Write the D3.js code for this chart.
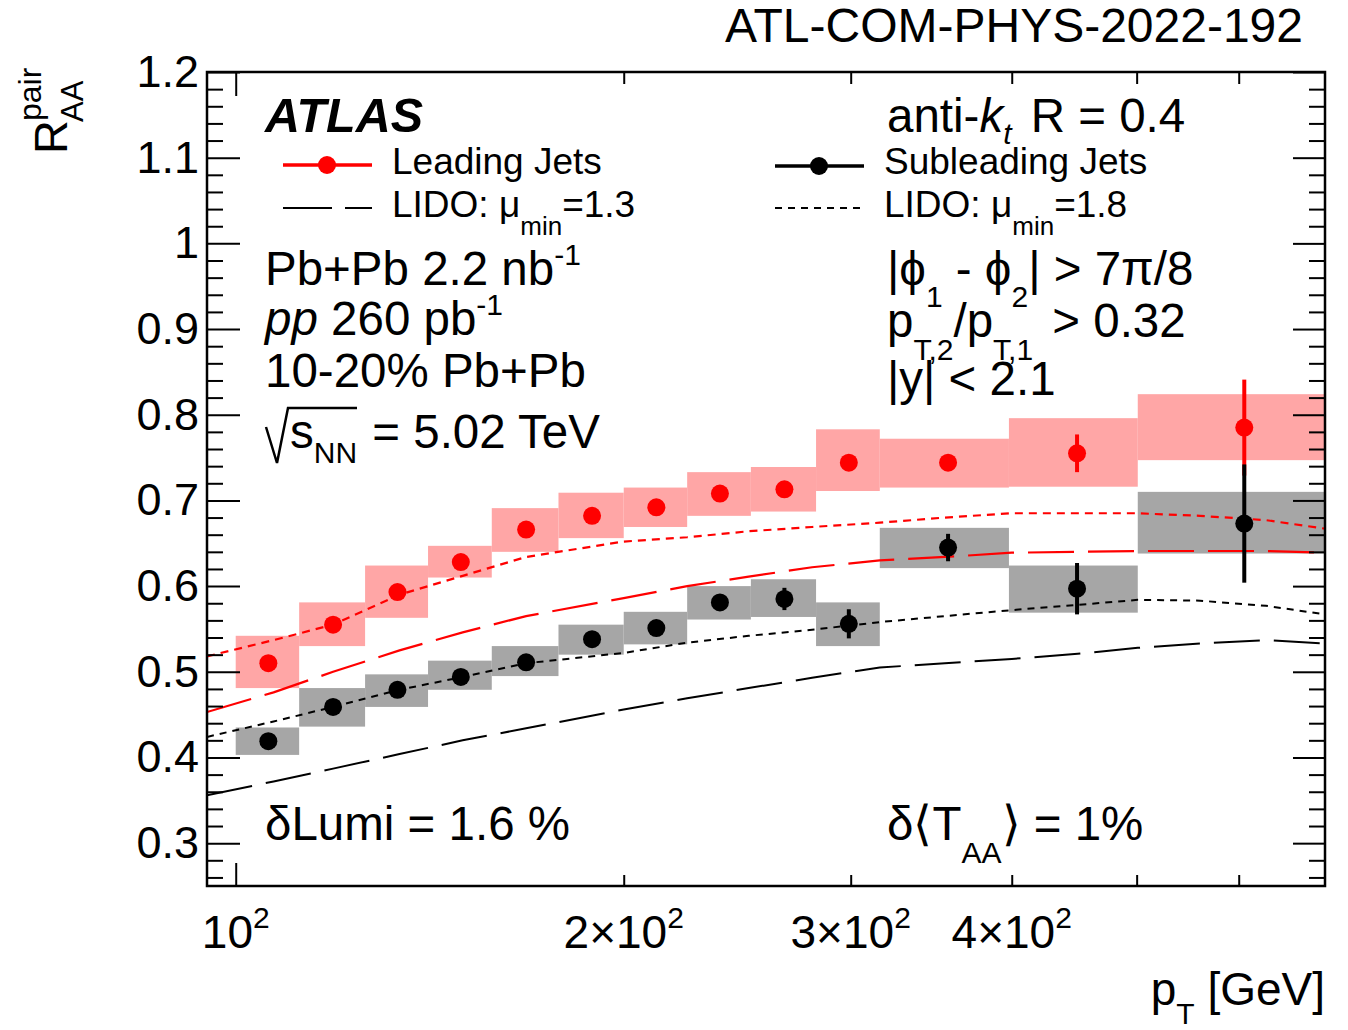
<!DOCTYPE html>
<html>
<head>
<meta charset="utf-8">
<script src="https://cdn.jsdelivr.net/npm/d3@7"></script>
<style>
  body { margin: 0; background: #fff; }
  svg { font-family: "Liberation Sans", Arial, sans-serif; }
</style>
</head>
<body>
<div id="chart"></div>
<script>
// bins in pT (GeV) and measured points
const binEdges = [100, 112, 126, 141, 158, 178, 200, 224, 251, 282, 316, 398, 501, 700];
const binCenters = [106, 119, 133.5, 149.5, 168, 189, 212, 237.5, 266.5, 299, 357, 449.5, 606];

// leading jets
const leadVal = [0.510, 0.555, 0.593, 0.628, 0.666, 0.682, 0.692, 0.708, 0.713, 0.744, 0.744, 0.755, 0.785];
const leadStat = [0.005, 0.005, 0.005, 0.005, 0.005, 0.005, 0.005, 0.005, 0.006, 0.008, 0.008, 0.022, 0.056];
const leadSysLo = [0.481, 0.530, 0.563, 0.610, 0.640, 0.656, 0.669, 0.682, 0.687, 0.711, 0.715, 0.716, 0.747];
const leadSysHi = [0.542, 0.581, 0.624, 0.647, 0.691, 0.709, 0.715, 0.733, 0.739, 0.783, 0.772, 0.796, 0.824];

// subleading jets
const subVal = [0.419, 0.459, 0.479, 0.494, 0.511, 0.538, 0.551, 0.581, 0.585, 0.556, 0.645, 0.597, 0.673];
const subStat = [0.005, 0.005, 0.005, 0.005, 0.005, 0.006, 0.007, 0.008, 0.013, 0.017, 0.016, 0.030, 0.069];
const subSysLo = [0.403, 0.436, 0.459, 0.479, 0.495, 0.520, 0.532, 0.561, 0.564, 0.530, 0.621, 0.569, 0.638];
const subSysHi = [0.435, 0.481, 0.497, 0.513, 0.530, 0.555, 0.570, 0.600, 0.608, 0.581, 0.668, 0.624, 0.710];

// LIDO curves
const lidoPt = [95, 107, 119, 134, 150, 168, 200, 224, 250, 280, 316, 355, 400, 450, 501, 560, 630, 700];
const lidoLead18 = [0.518, 0.537, 0.555, 0.590, 0.612, 0.634, 0.652, 0.657, 0.664, 0.669, 0.674, 0.680, 0.685, 0.685, 0.685, 0.682, 0.677, 0.667];
const lidoLead13 = [0.453, 0.476, 0.500, 0.525, 0.546, 0.565, 0.586, 0.600, 0.611, 0.622, 0.630, 0.634, 0.639, 0.640, 0.641, 0.641, 0.641, 0.639];
const lidoSub18 = [0.424, 0.442, 0.459, 0.479, 0.494, 0.510, 0.522, 0.534, 0.542, 0.549, 0.558, 0.565, 0.572, 0.578, 0.584, 0.583, 0.577, 0.567];
const lidoSub13 = [0.356, 0.372, 0.387, 0.404, 0.420, 0.434, 0.456, 0.469, 0.481, 0.493, 0.505, 0.510, 0.515, 0.521, 0.528, 0.533, 0.537, 0.533];

// axis ticks
const yMajor = [0.3, 0.4, 0.5, 0.6, 0.7, 0.8, 0.9, 1.0, 1.1, 1.2];
const yTickLabels = ["0.3", "0.4", "0.5", "0.6", "0.7", "0.8", "0.9", "1", "1.1", "1.2"];
const xTicks = [100, 200, 300, 400, 500, 600];
const xLabelVals = [100, 200, 300, 400];
const xLabelMant = ["", "2\u00d7", "3\u00d7", "4\u00d7"];

(function () {
  const margin = { top: 72, right: 23, bottom: 144, left: 207 };
  const width = 1348 - margin.left - margin.right;
  const height = 1030 - margin.top - margin.bottom;

  const root = d3.select("#chart")
    .append("svg")
    .attr("width", 1348)
    .attr("height", 1030);

  const svg = root.append("g")
    .attr("transform", "translate(" + margin.left + "," + margin.top + ")");

  const x = d3.scaleLog().domain([95, 700]).range([0, width]);
  const y = d3.scaleLinear().domain([0.25, 1.2]).range([height, 0]);

  svg.append("clipPath").attr("id", "clip")
    .append("rect").attr("width", width).attr("height", height);

  const plot = svg.append("g").attr("clip-path", "url(#clip)");

  // systematic boxes
  function boxes(lo, hi, color) {
    plot.append("g").selectAll("rect")
      .data(binCenters)
      .join("rect")
      .attr("x", (d, i) => x(binEdges[i]))
      .attr("width", (d, i) => x(binEdges[i + 1]) - x(binEdges[i]))
      .attr("y", (d, i) => y(hi[i]))
      .attr("height", (d, i) => y(lo[i]) - y(hi[i]))
      .attr("fill", color);
  }
  boxes(leadSysLo, leadSysHi, "#ffa6a6");
  boxes(subSysLo, subSysHi, "#a6a6a6");

  // theory curves
  const line = d3.line()
    .x(d => x(d.pt))
    .y(d => y(d.v));

  function curve(vals, color, dash, w) {
    plot.append("path")
      .datum(lidoPt.map((pt, i) => ({ pt: pt, v: vals[i] })))
      .attr("d", line)
      .attr("fill", "none")
      .attr("stroke", color)
      .attr("stroke-width", w)
      .attr("stroke-dasharray", dash);
  }
  curve(lidoSub13, "#000", "46,14", 2);
  curve(lidoSub18, "#000", "7,6", 2);
  curve(lidoLead13, "#ff0000", "46,14", 2.2);
  curve(lidoLead18, "#ff0000", "8,6", 2.2);

  // points with stat errors
  function points(vals, errs, color) {
    const g = plot.append("g");
    g.selectAll("line")
      .data(binCenters)
      .join("line")
      .attr("x1", d => x(d)).attr("x2", d => x(d))
      .attr("y1", (d, i) => y(vals[i] + errs[i]))
      .attr("y2", (d, i) => y(vals[i] - errs[i]))
      .attr("stroke", color)
      .attr("stroke-width", 4);
    g.selectAll("circle")
      .data(binCenters)
      .join("circle")
      .attr("cx", d => x(d))
      .attr("cy", (d, i) => y(vals[i]))
      .attr("r", 9)
      .attr("fill", color);
  }
  points(leadVal, leadStat, "#ff0000");
  points(subVal, subStat, "#000");

  // axes, ticks pointing in
  const yMinor = d3.range(0.26, 1.19, 0.02).filter(v => Math.abs(Math.round(v * 10) - v * 10) > 0.01);

  function styleAxis(g) {
    g.select(".domain").remove();
    g.selectAll(".tick line").attr("stroke", "#000").attr("stroke-width", 2);
    g.selectAll("text").attr("font-family", "Liberation Sans, Arial, sans-serif").attr("fill", "#000");
  }

  svg.append("g")
    .call(d3.axisLeft(y).tickValues(yMajor).tickSize(-33).tickPadding(8)
      .tickFormat((d, i) => yTickLabels[i]))
    .call(styleAxis)
    .selectAll("text").attr("font-size", 45);
  svg.append("g")
    .call(d3.axisLeft(y).tickValues(yMinor).tickSize(-16).tickFormat(""))
    .call(styleAxis);
  svg.append("g")
    .attr("transform", "translate(" + width + ",0)")
    .call(d3.axisRight(y).tickValues(yMajor).tickSize(-32).tickFormat(""))
    .call(styleAxis);
  svg.append("g")
    .attr("transform", "translate(" + width + ",0)")
    .call(d3.axisRight(y).tickValues(yMinor).tickSize(-16).tickFormat(""))
    .call(styleAxis);

  svg.append("g")
    .attr("transform", "translate(0," + height + ")")
    .call(d3.axisBottom(x).tickValues([xTicks[0]]).tickSize(-23).tickFormat(""))
    .call(styleAxis);
  svg.append("g")
    .attr("transform", "translate(0," + height + ")")
    .call(d3.axisBottom(x).tickValues(xTicks.slice(1)).tickSize(-11).tickFormat(""))
    .call(styleAxis);
  svg.append("g")
    .call(d3.axisTop(x).tickValues([xTicks[0]]).tickSize(-24).tickFormat(""))
    .call(styleAxis);
  svg.append("g")
    .call(d3.axisTop(x).tickValues(xTicks.slice(1)).tickSize(-12).tickFormat(""))
    .call(styleAxis);

  // x tick labels like 2x10^2
  xLabelVals.forEach((v, i) => {
    const t = svg.append("text")
      .attr("x", x(v))
      .attr("y", height + 62)
      .attr("text-anchor", "middle")
      .attr("font-size", 46);
    t.append("tspan").text(xLabelMant[i] + "10");
    t.append("tspan").attr("dy", -20).attr("font-size", 30).text("2");
  });

  // frame
  svg.append("rect")
    .attr("width", width)
    .attr("height", height)
    .attr("fill", "none")
    .attr("stroke", "#000")
    .attr("stroke-width", 2.5);

  // ---- text on the page ----
  root.append("text")
    .attr("x", 1303).attr("y", 42)
    .attr("text-anchor", "end")
    .attr("font-size", 48)
    .text("ATL-COM-PHYS-2022-192");

  // y title
  const yt = root.append("text")
    .attr("transform", "translate(67,154) rotate(-90)")
    .attr("font-size", 47);
  yt.append("tspan").text("R");
  yt.append("tspan").attr("x", 33).attr("y", -26).attr("font-size", 32).text("pair");
  yt.append("tspan").attr("x", 32).attr("y", 16).attr("font-size", 31).text("AA");

  // x title
  const xt = root.append("text")
    .attr("x", 1325).attr("y", 1005)
    .attr("text-anchor", "end")
    .attr("font-size", 46);
  xt.append("tspan").text("p");
  xt.append("tspan").attr("dy", 19).attr("font-size", 30).text("T");
  xt.append("tspan").attr("dy", -19).text(" [GeV]");

  root.append("text")
    .attr("x", 265).attr("y", 132)
    .attr("font-size", 48.5)
    .attr("font-weight", "bold")
    .attr("font-style", "italic")
    .text("ATLAS");

  // legend
  function legendRow(x0, yLine, yText, color, marker, dash, parts) {
    root.append("line")
      .attr("x1", x0).attr("x2", x0 + 89)
      .attr("y1", yLine).attr("y2", yLine)
      .attr("stroke", color)
      .attr("stroke-width", marker ? 3.5 : 2)
      .attr("stroke-dasharray", dash);
    if (marker) {
      root.append("circle").attr("cx", x0 + 44).attr("cy", yLine).attr("r", 9).attr("fill", color);
    }
    const t = root.append("text").attr("x", x0 + 109).attr("y", yText).attr("font-size", 37);
    parts.forEach(p => {
      t.append("tspan").attr("dy", p.dy || 0).attr("font-size", p.size || 37).text(p.t);
    });
  }
  legendRow(283, 165, 174, "#ff0000", true, null, [{ t: "Leading Jets" }]);
  legendRow(283, 208, 217, "#000", false, "49,13",
    [{ t: "LIDO: \u03bc" }, { t: "min", dy: 18, size: 26 }, { t: "=1.3", dy: -18 }]);
  legendRow(775, 166, 174, "#000", true, null, [{ t: "Subleading Jets" }]);
  legendRow(775, 208, 217, "#000", false, "7,6",
    [{ t: "LIDO: \u03bc" }, { t: "min", dy: 18, size: 26 }, { t: "=1.8", dy: -18 }]);

  // general label helper: parts with size, dy, style
  function label(x0, y0, parts) {
    const t = root.append("text").attr("x", x0).attr("y", y0).attr("font-size", 47.5);
    parts.forEach(p => {
      const s = t.append("tspan").attr("dy", p.dy || 0).attr("font-size", p.size || 47.5).text(p.t);
      if (p.it) s.attr("font-style", "italic");
      if (p.dx) s.attr("dx", p.dx);
    });
    return t;
  }

  label(887, 132, [{ t: "anti-" }, { t: "k", it: true }, { t: "t", it: true, dy: 12, size: 30 },
    { t: " R = 0.4", dy: -12, dx: 6 }]);

  label(265, 285, [{ t: "Pb+Pb 2.2 nb" }, { t: "-1", dy: -20, size: 30 }]);
  label(265, 335, [{ t: "pp", it: true }, { t: " 260 pb" }, { t: "-1", dy: -20, size: 30 }]);
  label(265, 387, [{ t: "10-20% Pb+Pb" }]);

  // sqrt sign
  root.append("path")
    .attr("d", "M266,427 L277,463 L288,408 L357,408")
    .attr("fill", "none")
    .attr("stroke", "#000")
    .attr("stroke-width", 2.5);
  label(290, 448, [{ t: "s" }, { t: "NN", dy: 15, size: 30 }, { t: " = 5.02 TeV", dy: -15, dx: 2 }]);

  label(887, 285, [{ t: "|\u03d5" }, { t: "1", dy: 22, size: 30 }, { t: " - \u03d5", dy: -22 },
    { t: "2", dy: 22, size: 30 }, { t: "| > 7\u03c0/8", dy: -22 }]);
  label(887, 337, [{ t: "p" }, { t: "T,2", dy: 23, size: 30 }, { t: "/p", dy: -23 },
    { t: "T,1", dy: 23, size: 30 }, { t: " > 0.32", dy: -23, dx: 6 }]);
  label(887, 395, [{ t: "|y| < 2.1" }]);

  label(265, 840, [{ t: "\u03b4Lumi = 1.6 %" }]);
  label(887, 840, [{ t: "\u03b4\u27e8T" }, { t: "AA", dy: 23, size: 30 }, { t: "\u27e9 = 1%", dy: -23 }]);
})();
</script>
</body>
</html>
